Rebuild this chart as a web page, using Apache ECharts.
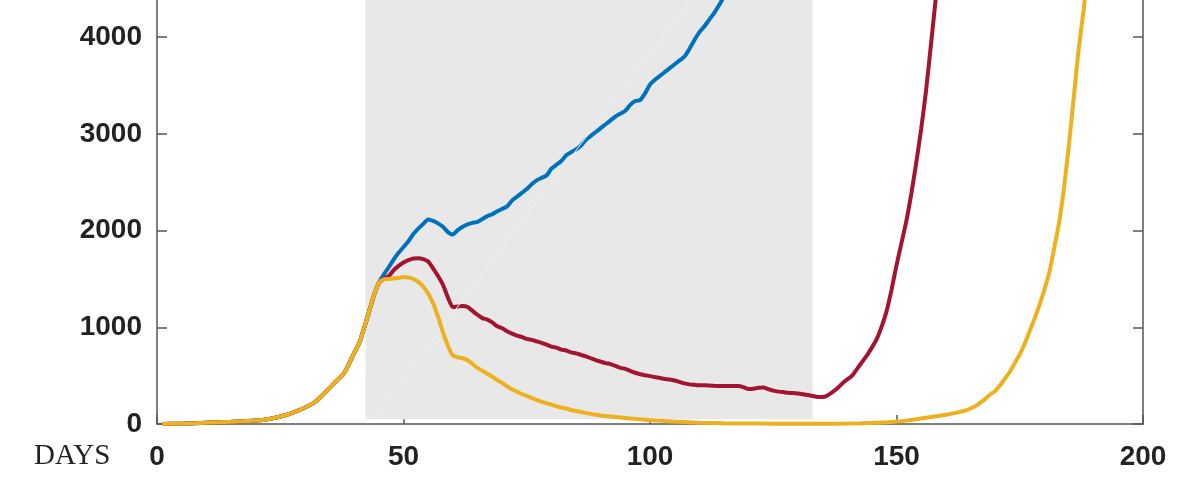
<!DOCTYPE html>
<html>
<head>
<meta charset="utf-8">
<script src="https://cdn.jsdelivr.net/npm/echarts@6/dist/echarts.min.js"></script>
<style>
html,body{margin:0;padding:0;background:#fff;}
#chart{width:1200px;height:496px;}
</style>
</head>
<body>
<div id="chart"></div>
<script>
// Shared early part (all three scenarios identical)
const commonDays = [1,5,10,15,20,23,26,28,30,32,34,36,38,40,41,42,43,44,45];
const commonVals = [0,3,12,22,35,55,90,125,170,225,320,425,530,735,835,990,1160,1330,1460];

// Blue scenario
const blueDays = [46,47,48,49,50,51,52,53,54,55,56,57,58,59,60,61,62,63,64,65,66,67,68,69,70,71,72,73,74,75,76,77,78,79,80,81,82,83,84,85,86,87,88,89,90,91,92,93,94,95,96,97,98,99,100,101,102,103,104,105,106,107,108,109,110,111,112,113,114,115,116];
const blueVals = [1545,1620,1700,1770,1830,1890,1965,2020,2070,2115,2100,2075,2040,1985,1960,2005,2040,2065,2080,2090,2120,2150,2170,2200,2225,2250,2310,2350,2390,2430,2480,2520,2545,2570,2640,2680,2720,2780,2810,2840,2880,2940,2980,3020,3060,3100,3140,3180,3210,3240,3300,3340,3350,3420,3510,3560,3600,3640,3680,3720,3760,3800,3880,3970,4050,4110,4180,4250,4330,4420,4500];

// Red scenario
const redDays = [46,47,48,49,50,51,52,53,54,55,56,57,58,59,60,61,62,63,64,65,66,67,68,69,70,71,72,73,74,75,76,77,78,79,80,81,82,83,84,85,86,87,88,89,90,91,92,93,94,95,96,97,98,99,100,101,102,103,104,105,106,107,108,109,110,111,112,113,114,115,116,117,118,119,120,121,122,123,124,125,126,127,128,129,130,131,132,133,134,135,136,137,138,139,140,141,142,143,144,145,146,147,148,149,150,151,152,153,154,155,156,157,158,159];
const redVals = [1500,1530,1590,1635,1670,1695,1712,1715,1705,1680,1610,1530,1440,1310,1210,1215,1220,1210,1170,1130,1095,1080,1050,1010,990,960,935,915,900,880,870,855,840,820,800,790,770,760,740,730,715,700,680,660,645,630,620,600,580,570,550,530,515,505,495,485,475,465,460,450,435,420,410,405,400,400,398,395,393,392,392,392,393,380,362,365,375,378,360,345,335,330,322,320,315,308,300,290,280,278,295,330,370,420,460,500,570,640,710,790,880,1010,1170,1390,1640,1870,2100,2380,2700,3050,3450,3930,4420,4950];

// Yellow scenario
const yellowDays = [46,47,48,49,50,51,52,53,54,55,56,57,58,59,60,61,62,63,64,65,66,67,68,69,70,71,72,73,74,75,76,77,78,79,80,81,82,83,84,85,86,87,88,89,90,92,94,96,98,100,103,106,110,115,120,125,130,135,140,143,146,148,150,152,154,156,158,160,162,164,165,166,167,168,169,170,171,172,173,174,175,176,177,178,179,180,181,182,183,184,185,186,187,188,189];
const yellowVals = [1495,1500,1505,1510,1520,1515,1500,1470,1420,1350,1250,1110,950,810,710,690,680,660,620,580,550,520,490,455,425,390,360,335,310,290,270,250,230,215,200,185,170,160,145,135,125,115,105,95,88,78,68,58,48,40,30,22,14,8,5,3,2,2,4,8,14,18,25,35,50,65,80,95,115,140,160,185,220,260,305,340,400,470,540,630,720,830,960,1090,1230,1390,1570,1820,2090,2450,2900,3400,3900,4300,4800];

// Axis ticks and shaded period
const xTicks = [0,50,100,150,200];
const yTicks = [0,1000,2000,3000,4000];
const shadeDays = [42.3, 133];
const shadeBottom = 48;
const yTop = 4385;
const faintLine = [[43.7, 48], [108.1, 4385]];

function pairs(d, v) { return d.map((x, i) => [x, v[i]]); }
const common = pairs(commonDays, commonVals);

const axisColor = '#555';
const labelFont = { fontFamily: 'Liberation Sans, Arial, sans-serif', fontWeight: 'bold', fontSize: 28, color: '#222', formatter: v => String(v) };

const chart = echarts.init(document.getElementById('chart'), null, { renderer: 'canvas' });
chart.setOption({
  animation: false,
  backgroundColor: '#fff',
  grid: { left: 157, right: 57, top: 0, bottom: 72, containLabel: false },
  xAxis: {
    type: 'value', min: 0, max: 200, interval: 50,
    axisLine: { show: true, lineStyle: { color: axisColor, width: 1.5 } },
    axisTick: { show: true, inside: true, length: 9, lineStyle: { color: axisColor, width: 1.5 } },
    splitLine: { show: false },
    axisLabel: Object.assign({ margin: 19, customValues: xTicks }, labelFont)
  },
  yAxis: [{
    type: 'value', min: 0, max: yTop, position: 'left',
    axisLine: { show: true, lineStyle: { color: axisColor, width: 1.5 } },
    axisTick: { show: true, inside: true, length: 10, customValues: yTicks, lineStyle: { color: axisColor, width: 1.5 } },
    splitLine: { show: false },
    axisLabel: Object.assign({ margin: 15, customValues: yTicks }, labelFont)
  }, {
    type: 'value', min: 0, max: yTop, position: 'right',
    axisLine: { show: true, lineStyle: { color: axisColor, width: 1.5 } },
    axisTick: { show: true, inside: true, length: 10, customValues: yTicks, lineStyle: { color: axisColor, width: 1.5 } },
    splitLine: { show: false },
    axisLabel: { show: false }
  }],
  graphic: [{
    type: 'text', left: 34, top: 442,
    style: { text: 'DAYS', fontFamily: 'Liberation Serif, Times New Roman, serif', fontSize: 29, fill: '#222' }
  }],
  series: [
    {
      type: 'line', data: [], z: 1, silent: true,
      markArea: {
        silent: true,
        itemStyle: { color: '#e8e8e8' },
        data: [[{ coord: [shadeDays[0], shadeBottom] }, { coord: [shadeDays[1], yTop] }]]
      },
      markLine: {
        silent: true, symbol: ['none', 'none'], label: { show: false },
        lineStyle: { color: '#f0f0f0', width: 1, type: 'solid' },
        data: [[{ coord: faintLine[0] }, { coord: faintLine[1] }]]
      }
    },
    { name: 'blue', type: 'line', data: common.concat(pairs(blueDays, blueVals)), showSymbol: false, z: 3, smooth: 0.2,
      lineStyle: { color: '#0072bd', width: 4 }, clip: true },
    { name: 'red', type: 'line', data: common.concat(pairs(redDays, redVals)), showSymbol: false, z: 4, smooth: 0.2,
      lineStyle: { color: '#a2142f', width: 4 }, clip: true },
    { name: 'yellow', type: 'line', data: common.concat(pairs(yellowDays, yellowVals)), showSymbol: false, z: 5, smooth: 0.2,
      lineStyle: { color: '#edb120', width: 4 }, clip: true }
  ]
});
</script>
</body>
</html>
